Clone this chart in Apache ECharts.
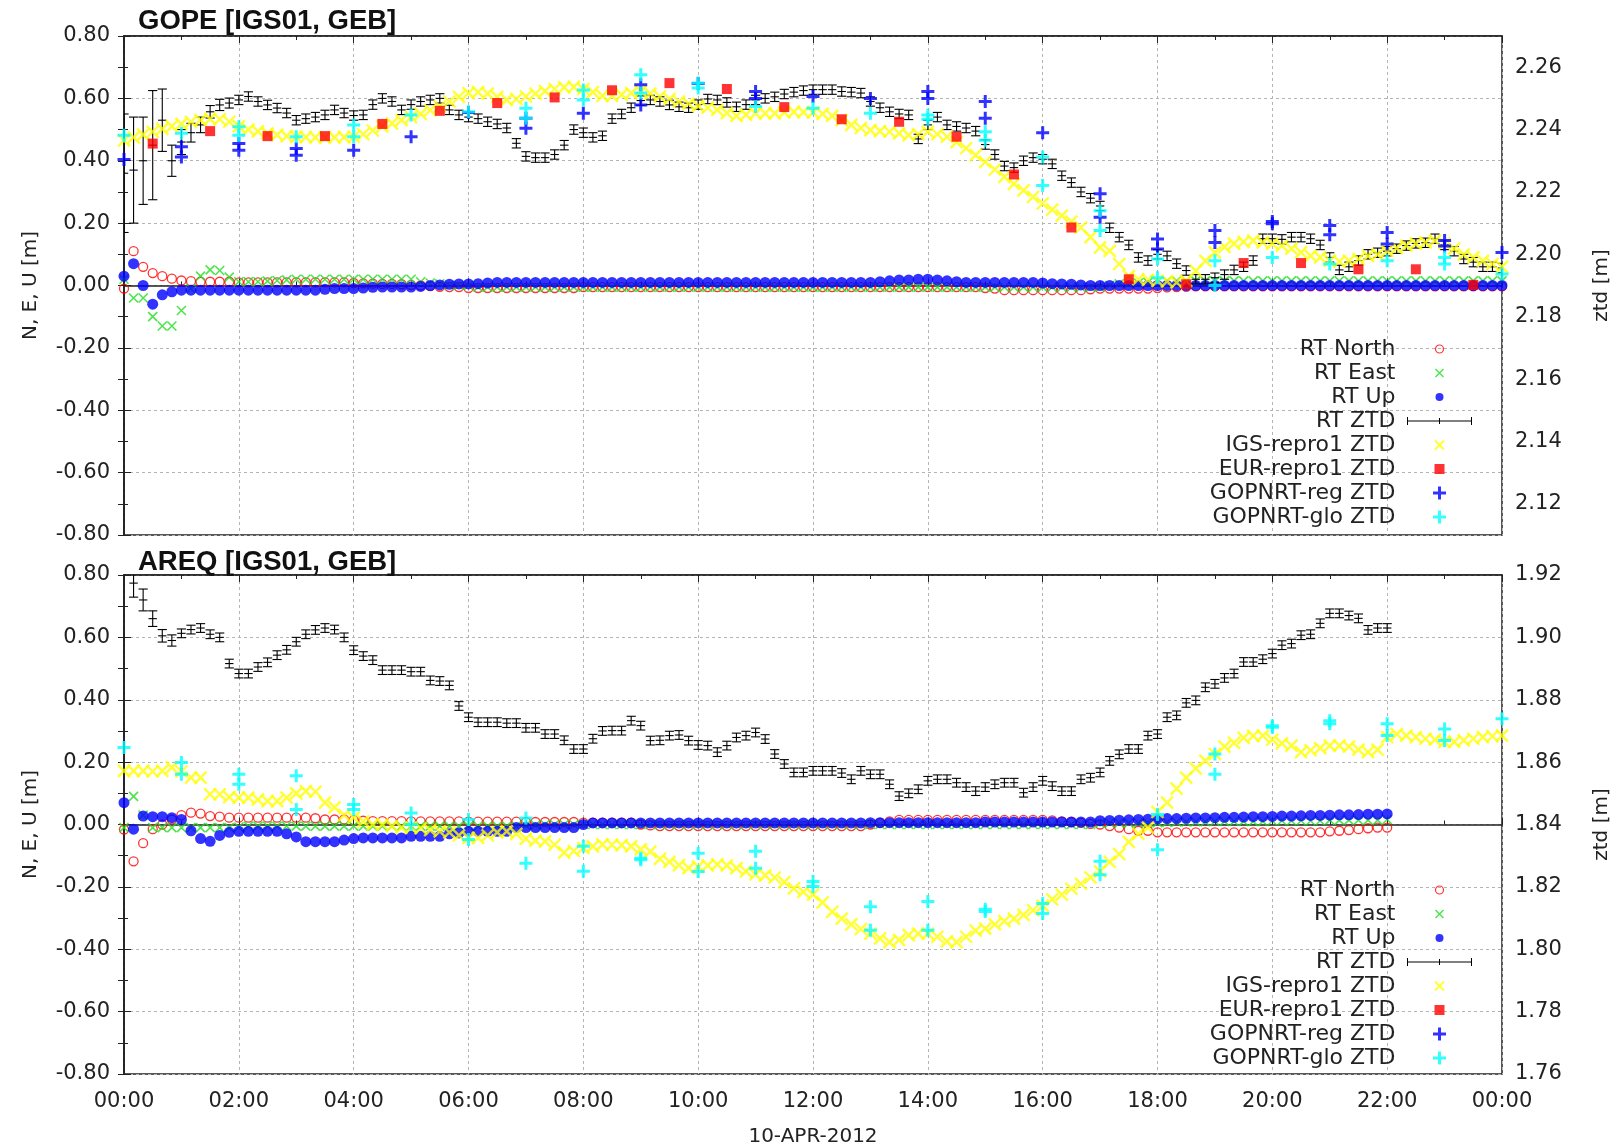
<!DOCTYPE html>
<html>
<head>
<meta charset="utf-8">
<script src="https://cdn.jsdelivr.net/npm/echarts@6/dist/echarts.min.js"></script>
<style>
  html, body { margin: 0; padding: 0; background: #fff; }
  #chart { width: 1624px; height: 1143px; }
</style>
</head>
<body>
<div id="chart"></div>
<script>
// Real-time PPP solutions for 10-APR-2012: coordinate residuals (N, E, U)
// on the left axis and zenith total delay on the right axis, two stations.
// Dense series are sampled every 10 minutes, index i -> i/6 hours.

// ---------------- GOPE ----------------
const gopeNorth = [
  -0.010, 0.110, 0.060, 0.040, 0.030, 0.022,
  0.016, 0.014, 0.012, 0.012, 0.012, 0.012,
  0.010, 0.010, 0.010, 0.010, 0.010, 0.010,
  0.010, 0.010, 0.010, 0.010, 0.010, 0.010,
  0.008, 0.007, 0.006, 0.005, 0.005, 0.004,
  0.002, 0.000, -0.002, -0.004, -0.005, -0.005,
  -0.008, -0.008, -0.008, -0.008, -0.008, -0.008,
  -0.008, -0.008, -0.008, -0.008, -0.008, -0.008,
  -0.005, -0.005, -0.005, -0.005, -0.005, -0.005,
  -0.005, -0.005, -0.005, -0.005, -0.005, -0.005,
  -0.005, -0.005, -0.005, -0.005, -0.005, -0.005,
  -0.005, -0.005, -0.005, -0.005, -0.005, -0.005,
  -0.005, -0.005, -0.005, -0.005, -0.005, -0.005,
  -0.005, -0.005, -0.005, -0.005, -0.005, -0.005,
  -0.005, -0.005, -0.005, -0.005, -0.005, -0.005,
  -0.008, -0.010, -0.015, -0.015, -0.015, -0.015,
  -0.015, -0.015, -0.015, -0.015, -0.015, -0.012,
  -0.010, -0.010, -0.010, -0.010, -0.010, -0.010,
  -0.008, -0.006, -0.005, -0.004, -0.003, -0.003,
  -0.003, -0.003, -0.003, -0.003, -0.003, -0.003,
  -0.003, -0.003, -0.003, -0.003, -0.003, -0.003,
  -0.003, -0.003, -0.003, -0.003, -0.003, -0.003,
  -0.003, -0.003, -0.003, -0.003, -0.003, -0.003,
  -0.003, -0.003, -0.003, -0.003, -0.003, -0.003,
  -0.003
];
const gopeEast = [
  0.020, -0.040, -0.040, -0.100, -0.130, -0.130,
  -0.080, -0.010, 0.030, 0.050, 0.048, 0.027,
  0.012, 0.012, 0.012, 0.014, 0.016, 0.018,
  0.020, 0.020, 0.020, 0.020, 0.020, 0.020,
  0.020, 0.020, 0.020, 0.020, 0.020, 0.020,
  0.020, 0.012, 0.008, 0.005, 0.000, 0.000,
  0.000, -0.005, -0.005, -0.005, -0.005, -0.005,
  -0.005, -0.005, -0.005, -0.005, -0.005, -0.005,
  -0.005, -0.005, -0.005, -0.005, -0.005, -0.005,
  -0.005, -0.005, -0.005, -0.005, -0.005, -0.005,
  -0.005, -0.005, -0.005, -0.005, -0.005, -0.005,
  -0.005, -0.005, -0.005, -0.005, -0.005, -0.005,
  -0.005, -0.005, -0.005, -0.005, -0.005, -0.005,
  -0.005, -0.005, -0.005, -0.005, -0.005, -0.005,
  -0.005, -0.005, -0.005, -0.005, -0.005, -0.005,
  -0.005, -0.005, -0.005, -0.005, -0.005, -0.005,
  -0.005, -0.005, -0.005, -0.005, -0.005, -0.005,
  -0.005, 0.000, 0.005, 0.005, 0.008, 0.010,
  0.012, 0.015, 0.015, 0.015, 0.015, 0.015,
  0.015, 0.015, 0.015, 0.015, 0.015, 0.015,
  0.015, 0.015, 0.015, 0.015, 0.015, 0.015,
  0.015, 0.015, 0.015, 0.015, 0.015, 0.015,
  0.015, 0.015, 0.015, 0.015, 0.015, 0.015,
  0.015, 0.015, 0.015, 0.015, 0.015, 0.015,
  0.015
];
const gopeUp = [
  0.030, 0.070, 0.000, -0.060, -0.030, -0.020,
  -0.015, -0.015, -0.015, -0.015, -0.015, -0.015,
  -0.015, -0.015, -0.015, -0.015, -0.015, -0.015,
  -0.015, -0.015, -0.015, -0.012, -0.010, -0.010,
  -0.010, -0.008, -0.006, -0.005, -0.005, -0.005,
  -0.005, -0.003, 0.000, 0.002, 0.004, 0.005,
  0.005, 0.006, 0.008, 0.010, 0.010, 0.010,
  0.010, 0.010, 0.010, 0.010, 0.010, 0.010,
  0.010, 0.010, 0.010, 0.010, 0.010, 0.010,
  0.010, 0.010, 0.010, 0.010, 0.010, 0.010,
  0.010, 0.010, 0.010, 0.010, 0.010, 0.010,
  0.010, 0.010, 0.010, 0.010, 0.010, 0.010,
  0.010, 0.010, 0.010, 0.010, 0.010, 0.010,
  0.010, 0.012, 0.015, 0.018, 0.018, 0.020,
  0.020, 0.018, 0.015, 0.012, 0.010, 0.010,
  0.010, 0.010, 0.010, 0.010, 0.010, 0.010,
  0.008, 0.006, 0.005, 0.004, 0.002, 0.000,
  0.000, 0.000, 0.000, 0.000, 0.000, 0.000,
  0.000, 0.000, 0.000, 0.000, 0.000, 0.000,
  0.000, 0.000, 0.000, 0.000, 0.000, 0.000,
  0.000, 0.000, 0.000, 0.000, 0.000, 0.000,
  0.000, 0.000, 0.000, 0.000, 0.000, 0.000,
  0.000, 0.000, 0.000, 0.000, 0.000, 0.000,
  0.000, 0.000, 0.000, 0.000, 0.000, 0.000,
  0.000
];
const gopeRtZtd = [
  2.2260, 2.2270, 2.2300, 2.2350, 2.2430, 2.2300,
  2.2360, 2.2390, 2.2415, 2.2457, 2.2479, 2.2485,
  2.2495, 2.2506, 2.2490, 2.2479, 2.2469, 2.2453,
  2.2430, 2.2435, 2.2440, 2.2447, 2.2463, 2.2453,
  2.2445, 2.2447, 2.2480, 2.2500, 2.2490, 2.2463,
  2.2480, 2.2490, 2.2495, 2.2500, 2.2463, 2.2447,
  2.2440, 2.2435, 2.2425, 2.2418, 2.2405, 2.2356,
  2.2314, 2.2310, 2.2310, 2.2320, 2.2350, 2.2400,
  2.2390, 2.2375, 2.2380, 2.2435, 2.2450, 2.2470,
  2.2493, 2.2495, 2.2490, 2.2479, 2.2473, 2.2470,
  2.2480, 2.2498, 2.2495, 2.2487, 2.2473, 2.2480,
  2.2495, 2.2500, 2.2505, 2.2514, 2.2520, 2.2525,
  2.2528, 2.2528, 2.2528, 2.2522, 2.2520, 2.2517,
  2.2490, 2.2470, 2.2457, 2.2450, 2.2447, 2.2370,
  2.2415, 2.2440, 2.2415, 2.2410, 2.2405, 2.2395,
  2.2352, 2.2320, 2.2283, 2.2278, 2.2300, 2.2310,
  2.2305, 2.2290, 2.2252, 2.2230, 2.2200, 2.2180,
  2.2155, 2.2085, 2.2055, 2.2030, 2.1990, 2.1980,
  2.2000, 2.1995, 2.1970, 2.1948, 2.1920, 2.1920,
  2.1925, 2.1935, 2.1950, 2.1960, 2.1980, 2.2050,
  2.2050, 2.2048, 2.2055, 2.2055, 2.2050, 2.2030,
  2.1990, 2.1950, 2.1960, 2.1980, 2.2000, 2.2005,
  2.2010, 2.2018, 2.2028, 2.2035, 2.2037, 2.2050,
  2.2030, 2.2010, 2.1985, 2.1975, 2.1960, 2.1960,
  2.1956
];
// half-length of the RT ZTD error bars, millimetres
const gopeRtZtdErrMm = [
  19, 17, 14, 17.5, 10, 5,
  4, 3, 2.5, 2, 1.8, 1.6,
  1.5, 1.5, 1.5, 1.5, 1.5, 1.5,
  1.5, 1.5, 1.5, 1.5, 1.5, 1.5,
  1.5, 1.5, 1.5, 1.5, 1.5, 1.5,
  1.5, 1.5, 1.5, 1.5, 1.5, 1.5,
  1.5, 1.5, 1.5, 1.5, 1.5, 1.5,
  1.5, 1.5, 1.5, 1.5, 1.5, 1.5,
  1.5, 1.5, 1.5, 1.5, 1.5, 1.5,
  1.5, 1.5, 1.5, 1.5, 1.5, 1.5,
  1.5, 1.5, 1.5, 1.5, 1.5, 1.5,
  1.5, 1.5, 1.5, 1.5, 1.5, 1.5,
  1.5, 1.5, 1.5, 1.5, 1.5, 1.5,
  1.5, 1.5, 1.5, 1.5, 1.5, 1.5,
  1.5, 1.5, 1.5, 1.5, 1.5, 1.5,
  1.5, 1.5, 1.5, 1.5, 1.5, 1.5,
  1.5, 1.5, 1.5, 1.5, 1.5, 1.5,
  1.5, 1.5, 1.5, 1.5, 1.5, 1.5,
  1.5, 1.5, 1.5, 1.5, 1.5, 1.5,
  1.5, 1.5, 1.5, 1.5, 1.5, 1.5,
  1.5, 1.5, 1.5, 1.5, 1.5, 1.5,
  1.5, 1.5, 1.5, 1.5, 1.5, 1.5,
  1.5, 1.5, 1.5, 1.5, 1.5, 1.5,
  1.5, 1.5, 1.5, 1.5, 1.5, 1.5,
  1.5
];
const gopeIgsZtd = [
  2.2365, 2.2375, 2.2384, 2.2393, 2.2402, 2.2410,
  2.2418, 2.2425, 2.2430, 2.2434, 2.2433, 2.2425,
  2.2410, 2.2400, 2.2394, 2.2388, 2.2383, 2.2379,
  2.2377, 2.2376, 2.2375, 2.2375, 2.2375, 2.2376,
  2.2377, 2.2385, 2.2397, 2.2410, 2.2420, 2.2430,
  2.2440, 2.2450, 2.2462, 2.2474, 2.2490, 2.2505,
  2.2517, 2.2520, 2.2515, 2.2505, 2.2495, 2.2498,
  2.2506, 2.2515, 2.2523, 2.2530, 2.2535, 2.2537,
  2.2530, 2.2520, 2.2508, 2.2508, 2.2512, 2.2517,
  2.2523, 2.2515, 2.2506, 2.2498, 2.2490, 2.2483,
  2.2476, 2.2470, 2.2463, 2.2453, 2.2444, 2.2448,
  2.2452, 2.2452, 2.2452, 2.2455, 2.2457, 2.2456,
  2.2455, 2.2450, 2.2444, 2.2430, 2.2415, 2.2405,
  2.2398, 2.2395, 2.2393, 2.2388, 2.2382, 2.2385,
  2.2393, 2.2385, 2.2377, 2.2360, 2.2340, 2.2318,
  2.2296, 2.2272, 2.2248, 2.2226, 2.2205, 2.2184,
  2.2163, 2.2143, 2.2124, 2.2105, 2.2086, 2.2055,
  2.2022, 2.2011, 2.1969, 2.1930, 2.1920, 2.1918,
  2.1915, 2.1913, 2.1910, 2.1915, 2.1947, 2.1979,
  2.2006, 2.2024, 2.2034, 2.2040, 2.2044, 2.2038,
  2.2034, 2.2028, 2.2018, 2.2006, 2.1995, 2.1990,
  2.1980, 2.1977, 2.1979, 2.1985, 2.1995, 2.2000,
  2.2011, 2.2020, 2.2028, 2.2034, 2.2038, 2.2044,
  2.2034, 2.2018, 2.2000, 2.1990, 2.1979, 2.1969,
  2.1960
];
const gopeEurHours = [0.5, 1.5, 2.5, 3.5, 4.5, 5.5, 6.5, 7.5, 8.5, 9.5, 10.5, 11.5,
  12.5, 13.5, 14.5, 15.5, 16.5, 17.5, 18.5, 19.5, 20.5, 21.5, 22.5, 23.5];
const gopeEurZtd = [2.2355, 2.2395, 2.2379, 2.2379, 2.2418, 2.2460, 2.2485, 2.2503,
  2.2526, 2.2549, 2.2530, 2.2472, 2.2433, 2.2425, 2.2377, 2.2256, 2.2086, 2.1920,
  2.1904, 2.1972, 2.1972, 2.1952, 2.1952, 2.1902];
const gopeRegHours = [0, 1, 1, 2, 2, 3, 3, 4, 5, 6, 7, 7, 8, 9, 9, 10, 11, 11, 12, 13,
  14, 14, 15, 15, 16, 17, 17, 18, 18, 19, 19, 20, 20, 21, 21, 22, 22, 23, 23, 24];
const gopeRegZtd = [2.2304, 2.2345, 2.2312, 2.2355, 2.2334, 2.2339, 2.2318, 2.2334,
  2.2377, 2.2455, 2.2436, 2.2404, 2.2452, 2.2544, 2.2479, 2.2548, 2.2522, 2.2500,
  2.2506, 2.2500, 2.2522, 2.2500, 2.2490, 2.2436, 2.2390, 2.2194, 2.2119, 2.2049,
  2.2017, 2.2076, 2.2038, 2.2105, 2.2098, 2.2092, 2.2063, 2.2070, 2.2033, 2.2044,
  2.2027, 2.2006];
const gopeGloHours = [0, 1, 2, 2, 3, 4, 4, 5, 6, 7, 7, 8, 8, 9, 9, 10, 10, 11, 12, 13,
  14, 14, 15, 15, 16, 16, 17, 17, 18, 18, 19, 19, 20, 21, 22, 23, 23, 24];
const gopeGloZtd = [2.2382, 2.2388, 2.2409, 2.2382, 2.2377, 2.2415, 2.2377, 2.2447,
  2.2457, 2.2468, 2.2436, 2.2527, 2.2495, 2.2576, 2.2517, 2.2549, 2.2533, 2.2474,
  2.2468, 2.2452, 2.2447, 2.2433, 2.2393, 2.2366, 2.2312, 2.2221, 2.2140, 2.2076,
  2.1985, 2.1925, 2.1979, 2.1900, 2.1990, 2.1969, 2.1979, 2.1990, 2.1969, 2.1937];

// ---------------- AREQ (real-time solution until 22:00) ----------------
const areqNorth = [
  -0.016, -0.118, -0.060, -0.015, 0.000, 0.016,
  0.030, 0.038, 0.035, 0.027, 0.025, 0.022,
  0.022, 0.022, 0.022, 0.022, 0.022, 0.022,
  0.022, 0.022, 0.020, 0.016, 0.016, 0.016,
  0.014, 0.012, 0.011, 0.011, 0.011, 0.011,
  0.010, 0.010, 0.010, 0.010, 0.010, 0.010,
  0.009, 0.009, 0.009, 0.009, 0.009, 0.009,
  0.008, 0.008, 0.008, 0.008, 0.008, 0.008,
  0.006, 0.006, 0.006, 0.006, 0.006, 0.006,
  0.000, -0.003, -0.005, -0.005, -0.005, -0.005,
  -0.005, -0.005, -0.005, -0.005, -0.005, -0.005,
  -0.005, -0.005, -0.005, -0.005, -0.005, -0.005,
  -0.005, -0.005, -0.005, -0.005, -0.005, -0.005,
  0.000, 0.005, 0.010, 0.015, 0.015, 0.015,
  0.015, 0.015, 0.015, 0.015, 0.015, 0.015,
  0.015, 0.015, 0.015, 0.015, 0.015, 0.015,
  0.015, 0.013, 0.010, 0.008, 0.005, 0.002,
  0.000, -0.005, -0.010, -0.015, -0.020, -0.020,
  -0.025, -0.025, -0.025, -0.025, -0.025, -0.025,
  -0.025, -0.025, -0.025, -0.025, -0.025, -0.025,
  -0.025, -0.025, -0.025, -0.025, -0.025, -0.025,
  -0.022, -0.020, -0.018, -0.015, -0.012, -0.010,
  -0.010
];
const areqEast = [
  -0.010, 0.090, 0.030, -0.010, -0.010, -0.010,
  -0.010, -0.010, -0.010, -0.010, -0.010, -0.010,
  -0.008, -0.005, -0.005, -0.005, -0.005, -0.005,
  -0.005, -0.005, -0.005, -0.005, -0.005, -0.005,
  -0.005, -0.005, -0.005, -0.005, -0.005, -0.005,
  -0.005, -0.005, -0.005, -0.005, -0.005, -0.005,
  -0.005, -0.005, -0.005, -0.005, -0.005, -0.005,
  -0.003, -0.002, 0.000, 0.000, 0.000, 0.000,
  0.000, 0.000, 0.000, 0.000, 0.000, 0.000,
  0.000, 0.000, 0.000, 0.000, 0.000, 0.000,
  0.000, 0.000, 0.000, 0.000, 0.000, 0.000,
  0.000, 0.000, 0.000, 0.000, 0.000, 0.000,
  0.000, 0.000, 0.000, 0.000, 0.000, 0.000,
  0.000, 0.000, 0.000, 0.000, 0.000, 0.000,
  0.000, 0.000, 0.000, 0.000, 0.000, 0.000,
  0.000, 0.000, 0.000, 0.000, 0.000, 0.000,
  0.000, 0.000, 0.000, 0.000, 0.000, 0.000,
  0.004, 0.005, 0.005, 0.005, 0.005, 0.005,
  0.006, 0.007, 0.008, 0.008, 0.009, 0.009,
  0.010, 0.010, 0.010, 0.010, 0.010, 0.010,
  0.012, 0.012, 0.012, 0.012, 0.012, 0.012,
  0.014, 0.014, 0.014, 0.014, 0.014, 0.014,
  0.016
];
const areqUp = [
  0.070, -0.015, 0.027, 0.025, 0.025, 0.022,
  0.016, -0.020, -0.045, -0.054, -0.035, -0.025,
  -0.022, -0.022, -0.022, -0.022, -0.022, -0.030,
  -0.040, -0.055, -0.055, -0.055, -0.055, -0.050,
  -0.045, -0.043, -0.043, -0.043, -0.043, -0.043,
  -0.038, -0.038, -0.038, -0.038, -0.030, -0.027,
  -0.022, -0.022, -0.022, -0.022, -0.022, -0.010,
  -0.010, -0.010, -0.010, -0.010, -0.010, -0.010,
  0.000, 0.005, 0.005, 0.005, 0.005, 0.005,
  0.005, 0.005, 0.005, 0.005, 0.005, 0.005,
  0.005, 0.005, 0.005, 0.005, 0.005, 0.005,
  0.005, 0.005, 0.005, 0.005, 0.005, 0.005,
  0.005, 0.005, 0.005, 0.005, 0.005, 0.005,
  0.006, 0.006, 0.006, 0.006, 0.006, 0.006,
  0.006, 0.006, 0.006, 0.006, 0.006, 0.006,
  0.008, 0.008, 0.008, 0.008, 0.008, 0.008,
  0.008, 0.008, 0.008, 0.008, 0.008, 0.008,
  0.012, 0.013, 0.014, 0.015, 0.016, 0.017,
  0.018, 0.019, 0.019, 0.020, 0.021, 0.021,
  0.022, 0.023, 0.023, 0.024, 0.025, 0.025,
  0.026, 0.027, 0.027, 0.028, 0.029, 0.029,
  0.030, 0.031, 0.031, 0.032, 0.033, 0.033,
  0.034
];
const areqRtZtd = [
  null, 1.9174, 1.9120, 1.9060, 1.9005, 1.8990,
  1.9013, 1.9025, 1.9030, 1.9010, 1.9000, 1.8916,
  1.8884, 1.8884, 1.8905, 1.8920, 1.8943, 1.8960,
  1.8986, 1.9010, 1.9024, 1.9030, 1.9025, 1.9000,
  1.8959, 1.8940, 1.8927, 1.8895, 1.8895, 1.8895,
  1.8890, 1.8890, 1.8862, 1.8860, 1.8846, 1.8780,
  1.8744, 1.8728, 1.8728, 1.8728, 1.8725, 1.8725,
  1.8710, 1.8710, 1.8690, 1.8690, 1.8670, 1.8642,
  1.8642, 1.8675, 1.8700, 1.8701, 1.8701, 1.8733,
  1.8717, 1.8669, 1.8670, 1.8685, 1.8687, 1.8669,
  1.8655, 1.8653, 1.8632, 1.8653, 1.8679, 1.8685,
  1.8695, 1.8674, 1.8626, 1.8594, 1.8567, 1.8567,
  1.8572, 1.8572, 1.8572, 1.8565, 1.8545, 1.8572,
  1.8561, 1.8561, 1.8529, 1.8491, 1.8500, 1.8513,
  1.8540, 1.8545, 1.8545, 1.8534, 1.8520, 1.8507,
  1.8520, 1.8529, 1.8534, 1.8534, 1.8502, 1.8520,
  1.8540, 1.8523, 1.8507, 1.8507, 1.8545, 1.8550,
  1.8567, 1.8604, 1.8625, 1.8642, 1.8642, 1.8685,
  1.8690, 1.8744, 1.8750, 1.8790, 1.8798, 1.8840,
  1.8851, 1.8870, 1.8884, 1.8921, 1.8921, 1.8930,
  1.8948, 1.8975, 1.8980, 1.9007, 1.9010, 1.9045,
  1.9077, 1.9077, 1.9070, 1.9061, 1.9024, 1.9030,
  1.9030
];
const areqRtZtdErrMm = [
  0, 4.5, 3.5, 2.5, 2, 1.8,
  1.4, 1.4, 1.4, 1.4, 1.4, 1.4,
  1.4, 1.4, 1.4, 1.4, 1.4, 1.4,
  1.4, 1.4, 1.4, 1.4, 1.4, 1.4,
  1.4, 1.4, 1.4, 1.4, 1.4, 1.4,
  1.4, 1.4, 1.4, 1.4, 1.4, 1.4,
  1.4, 1.4, 1.4, 1.4, 1.4, 1.4,
  1.4, 1.4, 1.4, 1.4, 1.4, 1.4,
  1.4, 1.4, 1.4, 1.4, 1.4, 1.4,
  1.4, 1.4, 1.4, 1.4, 1.4, 1.4,
  1.4, 1.4, 1.4, 1.4, 1.4, 1.4,
  1.4, 1.4, 1.4, 1.4, 1.4, 1.4,
  1.4, 1.4, 1.4, 1.4, 1.4, 1.4,
  1.4, 1.4, 1.4, 1.4, 1.4, 1.4,
  1.4, 1.4, 1.4, 1.4, 1.4, 1.4,
  1.4, 1.4, 1.4, 1.4, 1.4, 1.4,
  1.4, 1.4, 1.4, 1.4, 1.4, 1.4,
  1.4, 1.4, 1.4, 1.4, 1.4, 1.4,
  1.4, 1.4, 1.4, 1.4, 1.4, 1.4,
  1.4, 1.4, 1.4, 1.4, 1.4, 1.4,
  1.4, 1.4, 1.4, 1.4, 1.4, 1.4,
  1.4, 1.4, 1.4, 1.4, 1.4, 1.4,
  1.4
];
const areqIgsZtd = [
  1.8572, 1.8572, 1.8572, 1.8570, 1.8572, 1.8583,
  1.8570, 1.8550, 1.8550, 1.8497, 1.8497, 1.8488,
  1.8486, 1.8486, 1.8480, 1.8475, 1.8475, 1.8486,
  1.8500, 1.8507, 1.8505, 1.8470, 1.8455, 1.8430,
  1.8422, 1.8410, 1.8400, 1.8400, 1.8395, 1.8390,
  1.8390, 1.8388, 1.8382, 1.8378, 1.8375, 1.8365,
  1.8357, 1.8357, 1.8365, 1.8375, 1.8378, 1.8370,
  1.8355, 1.8348, 1.8346, 1.8335, 1.8310, 1.8315,
  1.8325, 1.8330, 1.8336, 1.8335, 1.8334, 1.8330,
  1.8320, 1.8313, 1.8290, 1.8280, 1.8270, 1.8260,
  1.8265, 1.8269, 1.8272, 1.8269, 1.8260, 1.8250,
  1.8240, 1.8237, 1.8230, 1.8215, 1.8195, 1.8184,
  1.8175, 1.8150, 1.8120, 1.8098, 1.8080, 1.8065,
  1.8050, 1.8035, 1.8023, 1.8030, 1.8045, 1.8050,
  1.8050, 1.8040, 1.8025, 1.8023, 1.8040, 1.8060,
  1.8066, 1.8080, 1.8090, 1.8098, 1.8110, 1.8125,
  1.8140, 1.8160, 1.8175, 1.8194, 1.8210, 1.8230,
  1.8250, 1.8280, 1.8305, 1.8344, 1.8370, 1.8390,
  1.8440, 1.8470, 1.8515, 1.8550, 1.8580, 1.8605,
  1.8626, 1.8650, 1.8662, 1.8678, 1.8684, 1.8685,
  1.8672, 1.8660, 1.8653, 1.8632, 1.8638, 1.8645,
  1.8653, 1.8653, 1.8650, 1.8640, 1.8632, 1.8640,
  1.8680, 1.8690, 1.8685, 1.8680, 1.8675, 1.8672,
  1.8665, 1.8665, 1.8670, 1.8675, 1.8680, 1.8683,
  1.8685
];
const areqGloHours = [0, 1, 1, 2, 2, 3, 3, 4, 4, 5, 5, 6, 6, 7, 7, 8, 8, 9, 9, 10, 10,
  11, 11, 12, 12, 13, 13, 14, 14, 15, 15, 16, 16, 17, 17, 18, 18, 19, 19, 20, 20,
  21, 21, 22, 22, 23, 23, 24];
const areqGloZtd = [1.8647, 1.8599, 1.8561, 1.8561, 1.8529, 1.8556, 1.8448, 1.8464,
  1.8448, 1.8437, 1.8400, 1.8416, 1.8352, 1.8421, 1.8276, 1.8330, 1.8250, 1.8292,
  1.8287, 1.8308, 1.8249, 1.8314, 1.8260, 1.8217, 1.8201, 1.8136, 1.8061, 1.8153,
  1.8061, 1.8128, 1.8121, 1.8147, 1.8115, 1.8282, 1.8239, 1.8432, 1.8319, 1.8626,
  1.8561, 1.8717, 1.8712, 1.8733, 1.8723, 1.8723, 1.8685, 1.8706, 1.8669, 1.8739];

// ---------------- axis definitions ----------------
const timeTicksHours = { min: 0, max: 24, step: 2 };
const neuRange = { min: -0.8, max: 0.8, step: 0.2 };
const gopeZtdRange = { min: 2.11, max: 2.27 };
const areqZtdRange = { min: 1.76, max: 1.92 };
const dateLabel = '10-APR-2012';
const legendNames = ['RT North', 'RT East', 'RT Up', 'RT ZTD', 'IGS-repro1 ZTD',
  'EUR-repro1 ZTD', 'GOPNRT-reg ZTD', 'GOPNRT-glo ZTD'];

// ---------------- styling ----------------
const FONT = 'DejaVu Sans';
const INK = '#222';
const COL = { red: '#ff0000', green: '#22dd22', blue: '#0000ff', yellow: '#ffff00',
  cyan: '#00ffff', black: '#000000' };
const SYM_X = 'path://M0,0L10,10M10,0L0,10';
const SYM_PLUS = 'path://M5,0L5,10M0,5L10,5';

// legend icons share a 66x14 box so every symbol keeps its own size
const ICON = {
  ring: 'path://M0,0M66,14M29,7A4,4,0,1,1,37,7A4,4,0,1,1,29,7Z',
  xs: 'path://M0,0M66,14M29,3L37,11M37,3L29,11',
  dot: 'path://M0,0M66,14M29,7A4,4,0,1,1,37,7A4,4,0,1,1,29,7Z',
  bar: 'path://M0,0M66,14M1,7L65,7M1,3L1,11M65,3L65,11M33,4L33,10',
  xl: 'path://M0,0M66,14M28.5,2.5L37.5,11.5M37.5,2.5L28.5,11.5',
  sq: 'path://M0,0M66,14M28,2L38,2L38,12L28,12Z',
  plus: 'path://M0,0M66,14M33,0.5L33,13.5M26.5,7L39.5,7'
};
const NONE = 'rgba(0,0,0,0)';

const hourLabel = v => {
  const h = Math.round(v) % 24;
  return (h < 10 ? '0' : '') + h + ':00';
};
const everyTen = arr => arr.map((v, i) => (v == null ? null : [i / 6, v])).filter(Boolean);
const pairs = (hours, vals) => hours.map((h, i) => [h, vals[i]]);

function scatter(name, data, xi, yi, symbol, size, style, z) {
  return { type: 'scatter', name, data, xAxisIndex: xi, yAxisIndex: yi, symbol,
    symbolSize: size, itemStyle: style, z: z, silent: true, animation: false };
}

function errorBars(name, vals, errMm, xi, yi) {
  const data = vals.map((v, i) => (v == null ? null : [i / 6, v, errMm[i] / 1000])).filter(Boolean);
  return {
    type: 'custom', name, data, xAxisIndex: xi, yAxisIndex: yi, z: 4, silent: true,
    animation: false, clip: true, encode: { x: 0, y: 1 },
    renderItem: (params, api) => {
      const t = api.value(0), v = api.value(1), e = api.value(2);
      const c = api.coord([t, v]);
      const hi = api.coord([t, v + e]);
      const lo = api.coord([t, v - e]);
      const x = c[0], w = 4.6, m = 4.2;
      const st = { stroke: '#000', lineWidth: 1.1 };
      return { type: 'group', children: [
        { type: 'line', shape: { x1: x, y1: hi[1], x2: x, y2: lo[1] }, style: st },
        { type: 'line', shape: { x1: x - w, y1: hi[1], x2: x + w, y2: hi[1] }, style: st },
        { type: 'line', shape: { x1: x - w, y1: lo[1], x2: x + w, y2: lo[1] }, style: st },
        { type: 'line', shape: { x1: x - m, y1: c[1], x2: x + m, y2: c[1] }, style: st }
      ] };
    }
  };
}

function panelSeries(p, xi, yl, yr) {
  const s = [
    scatter('RT North', everyTen(p.north), xi, yl, 'circle', 9,
      { color: NONE, borderColor: COL.red, borderWidth: 1.3 }, 2),
    scatter('RT East', everyTen(p.east), xi, yl, SYM_X, 9,
      { color: NONE, borderColor: COL.green, borderWidth: 1.6 }, 2),
    scatter('RT Up', everyTen(p.up), xi, yl, 'circle', 11,
      { color: COL.blue }, 3),
    errorBars('RT ZTD', p.rtZtd, p.rtErr, xi, yr),
    scatter('IGS-repro1 ZTD', everyTen(p.igs), xi, yr, SYM_X, 12,
      { color: NONE, borderColor: COL.yellow, borderWidth: 2.4 }, 5)
  ];
  if (p.eurHours) s.push(scatter('EUR-repro1 ZTD', pairs(p.eurHours, p.eur), xi, yr, 'rect', 10,
    { color: COL.red }, 6));
  if (p.regHours) s.push(scatter('GOPNRT-reg ZTD', pairs(p.regHours, p.reg), xi, yr, SYM_PLUS, 13,
    { color: NONE, borderColor: COL.blue, borderWidth: 3 }, 7));
  s.push(scatter('GOPNRT-glo ZTD', pairs(p.gloHours, p.glo), xi, yr, SYM_PLUS, 13,
    { color: NONE, borderColor: COL.cyan, borderWidth: 3 }, 8));
  return s;
}

const legendItems = [
  { icon: ICON.ring, itemStyle: { color: NONE, borderColor: COL.red, borderWidth: 1.2 } },
  { icon: ICON.xs, itemStyle: { color: NONE, borderColor: COL.green, borderWidth: 1.5 } },
  { icon: ICON.dot, itemStyle: { color: COL.blue, borderWidth: 0 } },
  { icon: ICON.bar, itemStyle: { color: NONE, borderColor: '#000', borderWidth: 1 } },
  { icon: ICON.xl, itemStyle: { color: NONE, borderColor: COL.yellow, borderWidth: 2 } },
  { icon: ICON.sq, itemStyle: { color: COL.red, borderWidth: 0 } },
  { icon: ICON.plus, itemStyle: { color: NONE, borderColor: COL.blue, borderWidth: 3 } },
  { icon: ICON.plus, itemStyle: { color: NONE, borderColor: COL.cyan, borderWidth: 3 } }
];

function legendAt(top) {
  return {
    orient: 'vertical', align: 'right', right: 150, top: top, padding: 0,
    itemWidth: 66, itemHeight: 14, itemGap: 2.0, selectedMode: false,
    textStyle: { fontFamily: FONT, fontSize: 22, color: INK, lineHeight: 21, padding: [0, 6, 0, 0] },
    data: legendNames.map((n, i) => Object.assign({ name: n }, legendItems[i]))
  };
}

const panels = [
  { title: 'GOPE [IGS01, GEB]', top: 36, legendTop: 338, ztd: gopeZtdRange,
    north: gopeNorth, east: gopeEast, up: gopeUp, rtZtd: gopeRtZtd, rtErr: gopeRtZtdErrMm,
    igs: gopeIgsZtd, eurHours: gopeEurHours, eur: gopeEurZtd,
    regHours: gopeRegHours, reg: gopeRegZtd, gloHours: gopeGloHours, glo: gopeGloZtd },
  { title: 'AREQ [IGS01, GEB]', top: 575, legendTop: 879, ztd: areqZtdRange,
    north: areqNorth, east: areqEast, up: areqUp, rtZtd: areqRtZtd, rtErr: areqRtZtdErrMm,
    igs: areqIgsZtd, gloHours: areqGloHours, glo: areqGloZtd }
];

const tickText = { fontFamily: FONT, fontSize: 21, color: INK };
const dashed = { show: true, lineStyle: { color: '#b4b4b4', width: 1, type: [3, 3] } };

const option = {
  backgroundColor: '#ffffff',
  animation: false,
  title: panels.map((p, i) => ({
    text: p.title, left: 138, top: i === 0 ? 7 : 548, padding: 0,
    textStyle: { fontFamily: 'Liberation Sans', fontWeight: 'bold', fontSize: 27.5, color: '#111' }
  })),
  legend: panels.map(p => legendAt(p.legendTop)),
  // fixed plot rectangles: the grids are not shrunk to fit labels or names
  grid: panels.map(p => ({
    left: 124, right: 122, top: p.top, height: 499, show: true,
    borderColor: INK, borderWidth: 1.5, backgroundColor: NONE,
    containLabel: false, outerBoundsMode: 'none'
  })),
  xAxis: [],
  yAxis: [],
  series: []
};

panels.forEach((p, gi) => {
  const last = gi === panels.length - 1;
  option.xAxis.push({
    type: 'value', gridIndex: gi, position: 'bottom',
    min: timeTicksHours.min, max: timeTicksHours.max, interval: timeTicksHours.step,
    axisLine: { show: true, lineStyle: { color: INK, width: 1.5 } },
    axisTick: { show: true, inside: true, length: 7, lineStyle: { color: INK } },
    minorTick: { show: true, splitNumber: 2, length: 4, lineStyle: { color: INK } },
    axisLabel: { show: last, formatter: hourLabel, margin: 17, ...tickText },
    splitLine: dashed,
    name: last ? dateLabel : '', nameLocation: 'middle', nameGap: 53,
    nameTextStyle: { fontFamily: FONT, fontSize: 20, color: INK }
  });
  option.xAxis.push({
    type: 'value', gridIndex: gi, position: 'top',
    min: timeTicksHours.min, max: timeTicksHours.max, interval: timeTicksHours.step,
    axisLine: { show: true, lineStyle: { color: INK, width: 1.5 } },
    axisTick: { show: true, inside: true, length: 7, lineStyle: { color: INK } },
    minorTick: { show: true, splitNumber: 2, length: 4, lineStyle: { color: INK } },
    axisLabel: { show: false }, splitLine: { show: false }
  });
  option.yAxis.push({
    type: 'value', gridIndex: gi, position: 'left',
    min: neuRange.min, max: neuRange.max, interval: neuRange.step,
    axisLine: { show: true, lineStyle: { color: INK, width: 1.5 } },
    axisTick: { show: true, inside: true, length: 7, lineStyle: { color: INK } },
    minorTick: { show: true, splitNumber: 2, length: 4, lineStyle: { color: INK } },
    axisLabel: { formatter: v => (Math.abs(v) < 1e-9 ? '0.00' : v.toFixed(2)), margin: 14, ...tickText },
    splitLine: dashed,
    name: 'N, E, U [m]', nameLocation: 'middle', nameGap: 83, nameRotate: 90,
    nameTextStyle: { fontFamily: FONT, fontSize: 20, color: INK }
  });
  option.yAxis.push({
    type: 'value', gridIndex: gi, position: 'right',
    min: p.ztd.min, max: p.ztd.max, interval: 0.01,
    axisLine: { show: true, lineStyle: { color: INK, width: 1.5 } },
    axisTick: { show: true, inside: true, length: 6, lineStyle: { color: INK } },
    axisLabel: {
      formatter: v => (Math.round(v * 100) % 2 === 0 ? v.toFixed(2) : ''),
      margin: 13, ...tickText
    },
    splitLine: { show: false },
    name: 'ztd [m]', nameLocation: 'middle', nameGap: 90, nameRotate: 90,
    nameTextStyle: { fontFamily: FONT, fontSize: 20, color: INK }
  });
  option.series.push(...panelSeries(p, gi * 2, gi * 2, gi * 2 + 1));
});

const chart = echarts.init(document.getElementById('chart'), null, { renderer: 'canvas' });
chart.setOption(option);
</script>
</body>
</html>
